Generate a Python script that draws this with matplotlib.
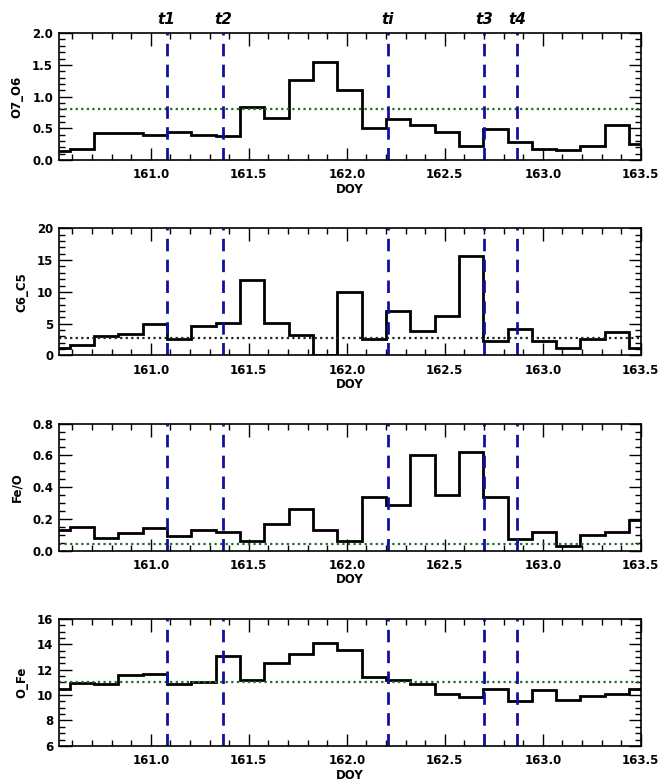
import matplotlib
matplotlib.use("Agg")
import matplotlib.pyplot as plt
from matplotlib.ticker import MultipleLocator, FixedLocator
import matplotlib.transforms as mtransforms

# Bin edges (DOY) of the ~3-hour averages
bin_edges = [160.462, 160.586, 160.710, 160.834, 160.958, 161.082, 161.207,
             161.331, 161.455, 161.579, 161.703, 161.827, 161.951, 162.075,
             162.199, 162.323, 162.448, 162.572, 162.696, 162.820, 162.944,
             163.068, 163.192, 163.316, 163.440, 163.564]

o7_o6 = [0.15, 0.18, 0.42, 0.42, 0.40, 0.45, 0.40, 0.38, 0.84, 0.67, 1.26,
         1.55, 1.11, 0.50, 0.64, 0.56, 0.45, 0.22, 0.49, 0.29, 0.18, 0.16,
         0.23, 0.56, 0.26]
c6_c5 = [1.2, 1.7, 3.0, 3.3, 4.9, 2.5, 4.7, 5.1, 11.8, 5.1, 3.2, 0.0, 10.0,
         2.5, 7.0, 3.9, 6.2, 15.6, 2.3, 4.2, 2.2, 1.2, 2.5, 3.7, 1.2]
fe_o = [0.13, 0.15, 0.08, 0.11, 0.14, 0.09, 0.13, 0.12, 0.06, 0.17, 0.26,
        0.13, 0.06, 0.34, 0.29, 0.60, 0.35, 0.62, 0.34, 0.07, 0.12, 0.03,
        0.10, 0.12, 0.19]
o_fe = [10.5, 10.95, 10.9, 11.55, 11.65, 10.85, 11.0, 13.1, 11.2, 12.55,
        13.2, 14.1, 13.55, 11.45, 11.15, 10.9, 10.1, 9.85, 10.45, 9.5, 10.4,
        9.6, 9.9, 10.05, 10.45]

# Reference levels (dotted)
ref_levels = [0.8, 2.8, 0.04, 11.0]

# Event times
event_times = [161.08, 161.37, 162.21, 162.70, 162.87]
event_labels = ["t1", "t2", "ti", "t3", "t4"]

series = [o7_o6, c6_c5, fe_o, o_fe]
ylabels = ["O7_O6", "C6_C5", "Fe/O", "O_Fe"]
ylims = [(0.0, 2.0), (0.0, 20.0), (0.0, 0.8), (6.0, 16.0)]
ymajor = [0.5, 5, 0.2, 2]
yminor = [0.1, 1, 0.05, 0.5]
ref_colors = ["#1f6e1f", "#222222", "#1f6e1f", "#1f6e1f"]

xticks = [161.0, 161.5, 162.0, 162.5, 163.0, 163.5]
xlim = (160.53, 163.5)

fig = plt.figure(figsize=(6.6, 7.81), dpi=100)
left, width, height = 0.089, 0.882, 0.1626
bottoms = [0.795, 0.545, 0.295, 0.045]

for i in range(4):
    ax = fig.add_axes([left, bottoms[i], width, height])
    ax.stairs(series[i], bin_edges, color="black", lw=2.0, baseline=None)
    ax.axhline(ref_levels[i], color=ref_colors[i], ls=(0, (1, 1.5)), lw=1.6)
    for t in event_times:
        ax.axvline(t, color="#1010a0", ls=(0, (4.5, 3)), lw=2.0)
    ax.set_xlim(*xlim)
    ax.set_ylim(*ylims[i])
    ax.xaxis.set_major_locator(FixedLocator(xticks))
    ax.xaxis.set_minor_locator(MultipleLocator(0.1))
    ax.yaxis.set_major_locator(MultipleLocator(ymajor[i]))
    ax.yaxis.set_minor_locator(MultipleLocator(yminor[i]))
    ax.set_xticklabels([f"{v:.1f}" for v in xticks], fontweight="bold",
                       fontsize=8.5)
    if i in (0, 2):
        ax.set_yticks(ax.get_yticks())
        ax.set_yticklabels([f"{v:.1f}" for v in ax.get_yticks()],
                           fontweight="bold", fontsize=8.5)
    else:
        ax.set_yticks(ax.get_yticks())
        ax.set_yticklabels([f"{int(round(v))}" for v in ax.get_yticks()],
                           fontweight="bold", fontsize=8.5)
    ax.set_ylim(*ylims[i])
    ax.tick_params(which="both", direction="in", top=True, right=True,
                   width=1.0, pad=4)
    ax.tick_params(which="major", length=9)
    ax.tick_params(which="minor", length=4)
    ax.tick_params(axis="x", which="major", pad=6)
    for sp in ax.spines.values():
        sp.set_linewidth(1.2)
    ax.set_xlabel("DOY", fontweight="bold", fontsize=8.5, labelpad=1)
    ax.set_ylabel(ylabels[i], fontweight="bold", fontsize=8.5, labelpad=6)
    if i == 0:
        trans = mtransforms.blended_transform_factory(ax.transData,
                                                      ax.transAxes)
        for t, lab in zip(event_times, event_labels):
            ax.text(t, 1.05, lab, transform=trans, ha="center", va="bottom",
                    fontsize=11, fontweight="bold", fontstyle="italic")

fig.savefig("out.png", dpi=100)
